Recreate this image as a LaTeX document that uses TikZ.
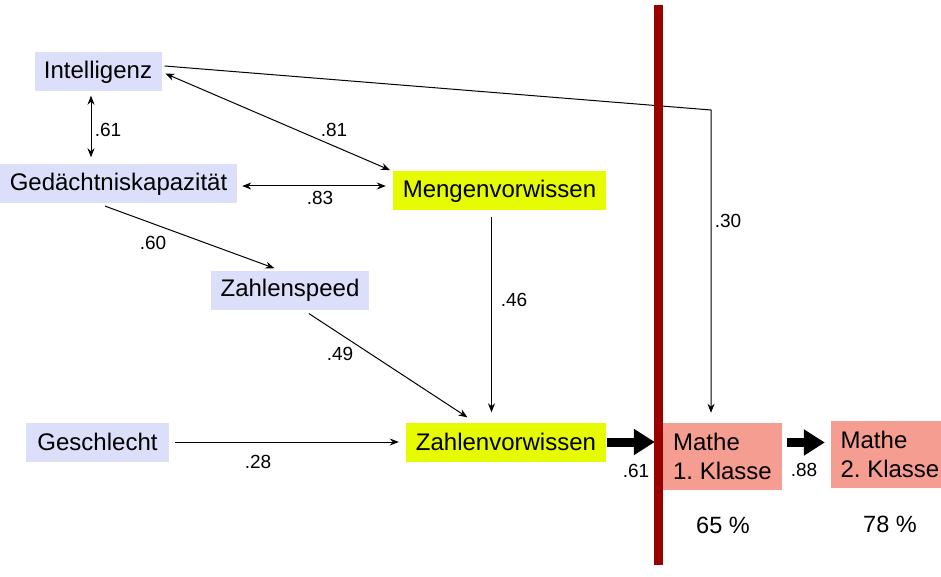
\documentclass[tikz,border=0pt]{standalone}
\usepackage{fontspec}
\setmainfont{Liberation Sans}
\usetikzlibrary{calc,arrows.meta}

\definecolor{boxblue}{RGB}{220,223,250}
\definecolor{boxyellow}{RGB}{230,250,0}
\definecolor{boxsalmon}{RGB}{245,157,145}
\definecolor{bardark}{RGB}{153,0,0}

\begin{document}
\begin{tikzpicture}[x=1pt, y=-1pt,
  var/.style={fill=boxblue, inner sep=0pt, font=\fontsize{24}{28}\selectfont},
  pred/.style={fill=boxyellow, inner sep=0pt, font=\fontsize{24}{28}\selectfont},
  outc/.style={fill=boxsalmon, inner sep=0pt, align=left, font=\fontsize{24}{29}\selectfont},
  val/.style={font=\fontsize{19}{21}\selectfont, inner sep=0pt},
  path/.style={line width=1pt, -{Stealth[length=9pt,width=7pt]}},
  corr/.style={line width=1pt, {Stealth[length=9pt,width=7pt]}-{Stealth[length=9pt,width=7pt]}},
  fat/.style={line width=9pt, -{Triangle[length=21pt,width=25pt]}}]
  \useasboundingbox (0,0) rectangle (941,577);

  % Nodes
  \node[var, minimum width=127pt, minimum height=39pt] (intel) at (98,72) {Intelligenz};
  \node[var, minimum width=237pt, minimum height=39pt] (gedae) at (118.5,184) {Gedächtniskapazität};
  \node[pred, minimum width=213pt, minimum height=39pt] (menge) at (499.5,191) {Mengenvorwissen};
  \node[var, minimum width=158pt, minimum height=39pt] (speed) at (290,290) {Zahlenspeed};
  \node[var, minimum width=143pt, minimum height=39pt] (gesch) at (97.5,442) {Geschlecht};
  \node[pred, minimum width=200pt, minimum height=39pt] (zahl) at (506,442) {Zahlenvorwissen};
  \node[outc, minimum width=119pt, minimum height=67pt] (mathe1) at (722.5,456.5) {Mathe\\1.\ Klasse};
  \node[outc, minimum width=118pt, minimum height=67pt] (mathe2) at (890,454.5) {Mathe\\2.\ Klasse};
  \node[font=\fontsize{23.5}{26}\selectfont] (pct1) at (723,525) {65 \%};
  \node[font=\fontsize{23.5}{26}\selectfont] (pct2) at (890,524) {78 \%};
  \coordinate (bend) at (711,110);

  % Arrows
  \draw[corr, shorten <=4pt, shorten >=7pt] ([xshift=-7pt]intel.south) -- ([xshift=-7pt]intel.south |- gedae.north);
  \draw[corr, shorten <=4pt, shorten >=3pt] (intel.east) -- (menge.north west);
  \draw[corr, shorten <=5pt, shorten >=7pt] ([yshift=-2pt]gedae.east) -- ([yshift=-2pt]gedae.east -| menge.west);
  \draw[path, shorten >=10pt] ([yshift=6pt,xshift=3pt]intel.east) -- (bend) -- (bend |- mathe1.north);
  \draw[path, shorten <=7pt, shorten >=6pt] ([xshift=-20pt]gedae.south) -- ([xshift=-10pt]speed.north);
  \draw[path, shorten <=7pt, shorten >=9pt] ([xshift=13pt]speed.south) -- ([xshift=-31pt]zahl.north);
  \draw[path, shorten <=6pt, shorten >=10pt] ([xshift=-8pt]menge.south) -- ([xshift=-8pt]menge.south |- zahl.north);
  \draw[path, shorten <=6pt, shorten >=7pt] (gesch.east) -- (zahl.west);
  \draw[fat, shorten <=1pt, shorten >=8pt] (zahl.east) -- (zahl.east -| mathe1.west);
  \draw[fat, shorten <=5pt, shorten >=6pt] ([yshift=14pt]mathe1.east) -- ([yshift=14pt]mathe1.east -| mathe2.west);

  % Separator
  \draw[bardark, line width=9pt] (658.5,5) -- (658.5,565);

  % Labels
  \node[val] (l61a) at (108,130) {.61};
  \node[val] (l81) at (334,130) {.81};
  \node[val] (l83) at (320,198) {.83};
  \node[val] (l30) at (728,221) {.30};
  \node[val] (l60) at (153,243) {.60};
  \node[val] (l46) at (514,300) {.46};
  \node[val] (l49) at (340,354) {.49};
  \node[val] (l28) at (258,462) {.28};
  \node[val] (l61b) at (636,471) {.61};
  \node[val] (l88) at (804,470) {.88};
\end{tikzpicture}
\end{document}
